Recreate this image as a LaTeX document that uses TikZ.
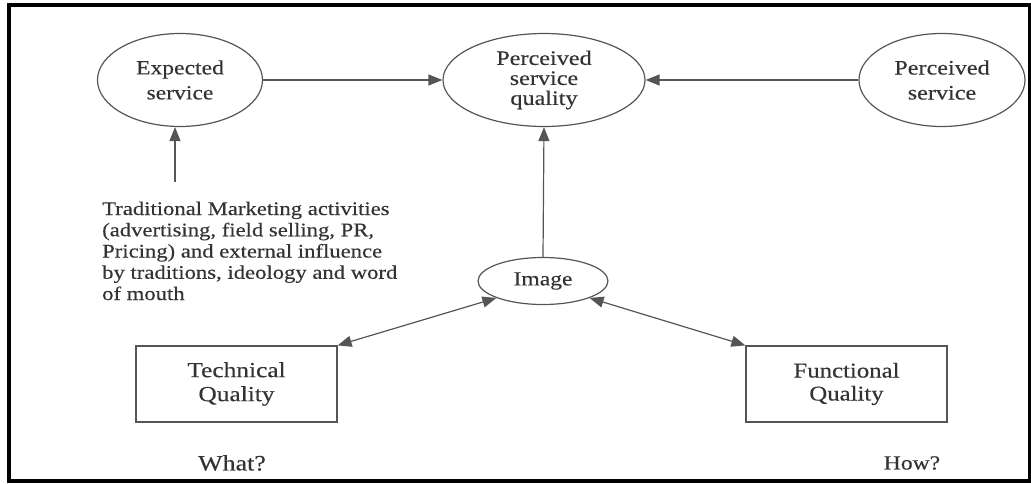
\documentclass[tikz,border=0pt]{standalone}
\usepackage{fontspec}
\setmainfont{Liberation Serif}[FakeStretch=1.18,FakeBold=0.3]
\usetikzlibrary{arrows.meta,shapes.geometric}
\definecolor{ink}{HTML}{333333}
\definecolor{edge}{HTML}{555555}
\newcommand{\lbl}[2]{\fontsize{#1}{#2}\selectfont}
\begin{document}
\begin{tikzpicture}[x=1pt,y=-1pt,
  every node/.style={text=ink},
  oval/.style={ellipse, draw=edge, line width=1.2pt, inner sep=0pt, align=center},
  qbox/.style={rectangle, draw=edge, line width=1.2pt, inner sep=0pt, align=center},
  link/.style={draw=edge, line width=1.2pt, -{Triangle[length=14pt,width=11pt]}},
  duo/.style={draw=edge, line width=1.2pt, {Triangle[length=14pt,width=11pt]}-{Triangle[length=14pt,width=11pt]}}]
\useasboundingbox (0,0) rectangle (1031,484);
\draw[line width=4pt, black] (9,5) rectangle (1029.5,481);

\node[oval, minimum width=165pt, minimum height=93pt, font=\lbl{20}{25}] (exp) at (180,80) {Expected\\service};
\node[oval, minimum width=202pt, minimum height=93pt, font=\lbl{20.5}{20}] (psq) at (544,80) {Perceived\\service\\quality};
\node[oval, minimum width=166pt, minimum height=93pt, font=\lbl{20.5}{25}] (ps) at (942,80) {Perceived\\service};
\node[oval, minimum width=130pt, minimum height=47pt, font=\lbl{20}{24}] (img) at (543,281) {Image};
\node[qbox, minimum width=201pt, minimum height=76pt, font=\lbl{21.5}{24}] (tq) at (236.5,384) {Technical\\Quality};
\node[qbox, minimum width=201pt, minimum height=76pt, font=\lbl{21}{23}] (fq) at (846.5,384) {Functional\\Quality};

\node[anchor=base west, align=left, inner sep=0pt, font=\lbl{19.2}{21.25}] (mkt) at (102,300)
  {Traditional Marketing activities\\(advertising, field selling, PR,\\Pricing) and external influence\\by traditions, ideology and word\\of mouth};

\node[font=\lbl{22}{24}] (what) at (232,463) {What?};
\node[font=\lbl{20}{24}] (how) at (912,463) {How?};

\coordinate (mktTop) at (175,182);
\draw[link] (mktTop) -- (mktTop |- exp.south);
\draw[link] (exp.east) -- (psq.west);
\draw[link] (ps.west) -- (psq.east);
\draw[link] (img.north) -- (psq.south);
\draw[duo] (tq.north east) -- (img.200);
\draw[duo] (fq.north west) -- (img.-20);
\end{tikzpicture}
\end{document}
